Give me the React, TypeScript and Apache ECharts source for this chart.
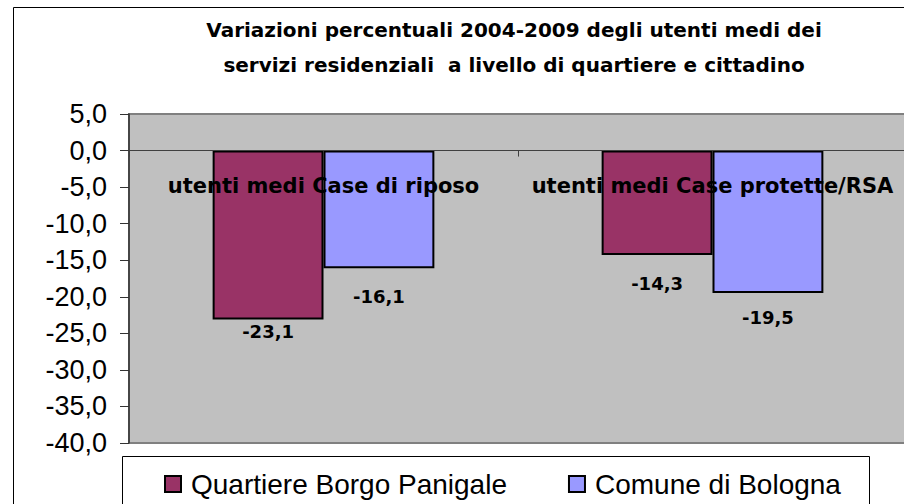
import React, { useEffect, useRef } from 'react';
import * as echarts from 'echarts';

const titleLines = [
  'Variazioni percentuali 2004-2009 degli utenti medi dei',
  'servizi residenziali  a livello di quartiere e cittadino',
];
const categories = ['utenti medi Case di riposo', 'utenti medi Case protette/RSA'];
const seriesNames = ['Quartiere Borgo Panigale', 'Comune di Bologna'];
const borgoPanigale = [-23.1, -14.3];
const comuneBologna = [-16.1, -19.5];
const yMin = -40;
const yMax = 5;
const yInterval = 5;

// styling (not data)
const colors = ['#993366', '#9999FF'];
const labelDistances = [
  [3, 19],
  [19, 15],
];

const fmt = (v: number) => v.toFixed(1).replace('.', ',');

export default function App() {
  const ref = useRef<HTMLDivElement>(null);
  useEffect(() => {
    if (!ref.current) return;
    const chart = echarts.init(ref.current, undefined, { renderer: 'svg' });
    const seriesValues = [borgoPanigale, comuneBologna];
    chart.setOption({
      animation: false,
      backgroundColor: '#ffffff',
      graphic: [
        {
          type: 'rect',
          shape: { x: 13.5, y: 7.5, width: 1000, height: 1000 },
          style: { fill: 'none', stroke: '#000', lineWidth: 1 },
          silent: true,
        },
        {
          type: 'rect',
          shape: { x: 122.5, y: 456.5, width: 747, height: 100 },
          style: { fill: 'none', stroke: '#000', lineWidth: 1 },
          silent: true,
        },
        {
          type: 'text',
          x: 514,
          y: 12,
          style: {
            text: titleLines.join('\n'),
            textAlign: 'center',
            textVerticalAlign: 'top',
            fontFamily: 'DejaVu Sans',
            fontWeight: 'bold',
            fontSize: 20,
            lineHeight: 35,
            fill: '#000',
          },
        },
      ],
      grid: {
        left: 129,
        top: 114,
        right: -3,
        bottom: 61,
        show: true,
        backgroundColor: '#C0C0C0',
        borderColor: '#808080',
        borderWidth: 2,
        containLabel: false,
        outerBoundsMode: 'none',
      },
      legend: {
        data: seriesNames,
        left: 159,
        top: 465,
        icon: 'rect',
        itemWidth: 16,
        itemHeight: 16,
        itemGap: 61,
        textStyle: {
          fontFamily: 'Liberation Sans',
          fontSize: 28,
          color: '#000',
          padding: [0, 0, 0, 5],
        },
      },
      xAxis: {
        type: 'category',
        data: categories,
        z: 10,
        axisLine: { show: true, onZero: true, lineStyle: { color: '#404040', width: 1 } },
        axisTick: { show: true, length: 6, lineStyle: { color: '#404040' } },
        axisLabel: {
          interval: 0,
          margin: -268,
          fontFamily: 'DejaVu Sans',
          fontWeight: 'bold',
          fontSize: 21,
          color: '#000',
        },
        splitLine: { show: false },
      },
      yAxis: {
        type: 'value',
        min: yMin,
        max: yMax,
        interval: yInterval,
        axisLine: { show: true, lineStyle: { color: '#333', width: 1.5 } },
        axisTick: { show: true, length: 9, lineStyle: { color: '#333' } },
        axisLabel: {
          margin: 22,
          fontFamily: 'Liberation Sans',
          fontSize: 27,
          color: '#000',
          formatter: (v: number) => fmt(v),
        },
        splitLine: { show: false },
      },
      series: seriesNames.map((name, si) => ({
        name,
        type: 'bar',
        barGap: '0%',
        barCategoryGap: '43%',
        itemStyle: { color: colors[si], borderColor: '#000', borderWidth: 2 },
        data: seriesValues[si].map((v, ci) => ({
          value: v,
          label: { distance: labelDistances[si][ci] },
        })),
        label: {
          show: true,
          position: 'bottom',
          fontFamily: 'DejaVu Sans',
          fontWeight: 'bold',
          fontSize: 18,
          color: '#000',
          formatter: (p: any) => fmt(p.value),
        },
      })),
    });
    return () => chart.dispose();
  }, []);
  return (
    <div
      ref={ref}
      style={{ position: 'fixed', left: 0, top: 0, width: 904, height: 504 }}
    />
  );
}
